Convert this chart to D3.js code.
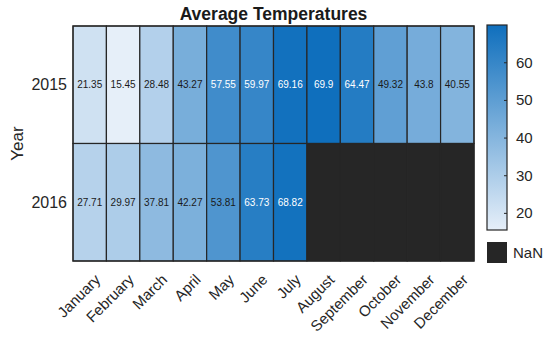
<!DOCTYPE html>
<html>
<head>
<meta charset="utf-8">
<script src="https://cdn.jsdelivr.net/npm/d3@7"></script>
<style>
  body { margin: 0; background: #fff; }
  svg { font-family: "Liberation Sans", Arial, Helvetica, sans-serif; }
</style>
</head>
<body>
<svg id="chart"></svg>
<script>
// data
const months = ["January", "February", "March", "April", "May", "June", "July",
    "August", "September", "October", "November", "December"];
const years = ["2015", "2016"];
const temps2015 = [21.35, 15.45, 28.48, 43.27, 57.55, 59.97, 69.16, 69.9, 64.47, 49.32, 43.8, 40.55];
const temps2016 = [27.71, 29.97, 37.81, 42.27, 53.81, 63.73, 68.82, null, null, null, null, null];
const barTicks = [20, 30, 40, 50, 60];

const svgWidth = 560, svgHeight = 337;
const margin = {top: 26, left: 73, right: 86, bottom: 76};
const width = svgWidth - margin.left - margin.right,
    height = svgHeight - margin.top - margin.bottom;

const nanColor = "#262626";
const lineColor = "#262626";

const chart = d3.select("#chart")
    .attr("width", svgWidth)
    .attr("height", svgHeight);

const cells = [];
[temps2015, temps2016].forEach(function(row, i) {
    row.forEach(function(v, j) {
        cells.push({year: years[i], month: months[j], value: v});
    });
});

const allVals = temps2015.concat(temps2016).filter(v => v != null);
const vmin = d3.min(allVals), vmax = d3.max(allVals);

const color = d3.scaleLinear()
    .domain([vmin, vmax])
    .range(["#e6eff9", "#0f6fbd"])
    .interpolate(d3.interpolateRgb);

const xScale = d3.scaleBand().domain(months).range([0, width]);
const yScale = d3.scaleBand().domain(years).range([0, height]);

const g = chart.append("g")
    .attr("transform", `translate(${margin.left},${margin.top})`);

// cells
g.selectAll(".cell")
    .data(cells)
    .enter()
    .append("rect")
    .attr("class", "cell")
    .attr("x", d => xScale(d.month))
    .attr("y", d => yScale(d.year))
    .attr("width", xScale.bandwidth())
    .attr("height", yScale.bandwidth())
    .attr("fill", d => d.value == null ? nanColor : color(d.value))
    .attr("stroke", lineColor)
    .attr("stroke-width", 1.2);

// cell values
g.selectAll(".val")
    .data(cells.filter(d => d.value != null))
    .enter()
    .append("text")
    .attr("class", "val")
    .attr("x", d => xScale(d.month) + xScale.bandwidth() / 2)
    .attr("y", d => yScale(d.year) + yScale.bandwidth() / 2)
    .attr("dy", "0.35em")
    .attr("text-anchor", "middle")
    .style("font-size", "10px")
    .style("fill", d => d.value > 55 ? "#ffffff" : "#1a1a1a")
    .text(d => d.value);

// outer border
g.append("rect")
    .attr("width", width)
    .attr("height", height)
    .attr("fill", "none")
    .attr("stroke", lineColor)
    .attr("stroke-width", 1.2);

// y labels
g.selectAll(".ylab")
    .data(years)
    .enter()
    .append("text")
    .attr("x", -6)
    .attr("y", d => yScale(d) + yScale.bandwidth() / 2)
    .attr("dy", "0.35em")
    .attr("text-anchor", "end")
    .style("font-size", "16px")
    .style("fill", "#262626")
    .text(d => d);

// x labels, rotated
g.selectAll(".xlab")
    .data(months)
    .enter()
    .append("text")
    .attr("transform", d => `translate(${xScale(d) + xScale.bandwidth() / 2 + 8},${height + 16}) rotate(-45)`)
    .attr("text-anchor", "end")
    .attr("dy", "0.35em")
    .style("font-size", "15px")
    .style("fill", "#262626")
    .text(d => d);

// axis title
chart.append("text")
    .attr("transform", `translate(23,${margin.top + height / 2}) rotate(-90)`)
    .attr("text-anchor", "middle")
    .style("font-size", "17px")
    .style("fill", "#262626")
    .text("Year");

// title
chart.append("text")
    .attr("x", margin.left + width / 2)
    .attr("y", 20)
    .attr("text-anchor", "middle")
    .style("font-size", "17.5px")
    .style("font-weight", "bold")
    .style("fill", "#1a1a1a")
    .text("Average Temperatures");

// colorbar
const barX = 487, barW = 20, barTop = 25, barBottom = 230;
const barScale = d3.scaleLinear().domain([vmin, vmax]).range([barBottom, barTop]);

const defs = chart.append("defs");
const grad = defs.append("linearGradient")
    .attr("id", "cbar")
    .attr("x1", 0).attr("y1", 1).attr("x2", 0).attr("y2", 0);
grad.append("stop").attr("offset", "0%").attr("stop-color", color(vmin));
grad.append("stop").attr("offset", "100%").attr("stop-color", color(vmax));

chart.append("rect")
    .attr("x", barX)
    .attr("y", barTop)
    .attr("width", barW)
    .attr("height", barBottom - barTop)
    .attr("fill", "url(#cbar)")
    .attr("stroke", lineColor)
    .attr("stroke-width", 1.2);

const barAxis = d3.axisRight(barScale)
    .tickValues(barTicks)
    .tickSize(-3)
    .tickPadding(9);

chart.append("g")
    .attr("transform", `translate(${barX + barW},0)`)
    .call(barAxis)
    .call(s => s.select(".domain").remove())
    .call(s => s.selectAll("line").attr("stroke", lineColor))
    .call(s => s.selectAll("text")
        .style("font-size", "15px")
        .style("font-family", "\"Liberation Sans\", Arial, sans-serif")
        .attr("fill", "#262626"));

// NaN legend box
chart.append("rect")
    .attr("x", barX)
    .attr("y", 242)
    .attr("width", barW)
    .attr("height", 21)
    .attr("fill", nanColor);

chart.append("text")
    .attr("x", barX + barW + 6)
    .attr("y", 252.5)
    .attr("dy", "0.35em")
    .style("font-size", "15px")
    .style("fill", "#262626")
    .text("NaN");
</script>
</body>
</html>
